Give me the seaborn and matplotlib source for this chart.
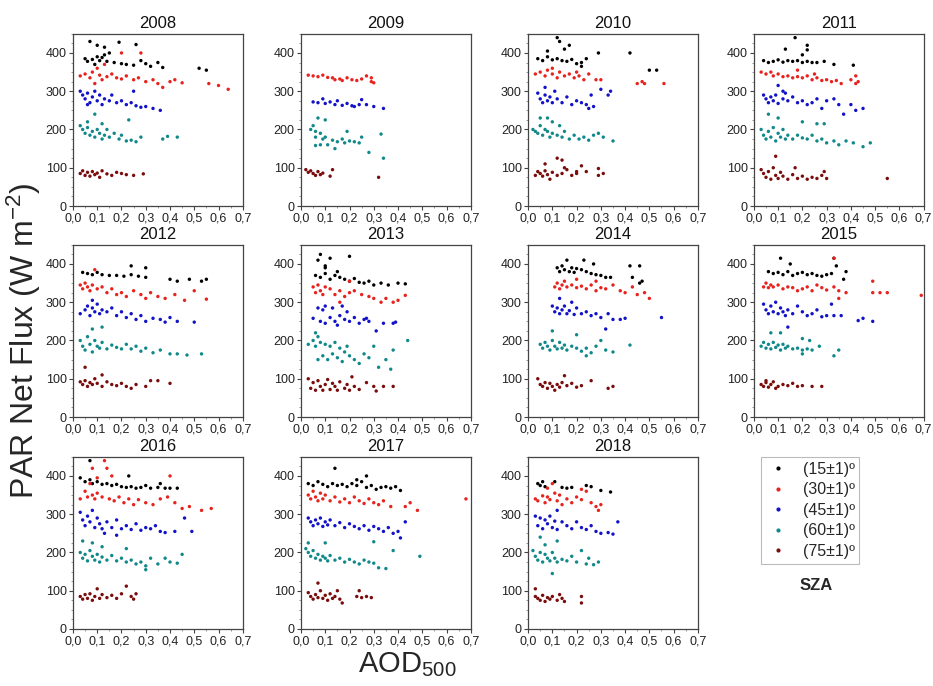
import matplotlib
matplotlib.use('Agg')
import matplotlib.pyplot as plt
from matplotlib.lines import Line2D
from matplotlib.ticker import MultipleLocator, FuncFormatter
import seaborn as sns
import pandas as pd

# SZA classes and their colours
sza_labels = ['(15±1)º', '(30±1)º', '(45±1)º', '(60±1)º', '(75±1)º']
sza_colors = ['#000000', '#e8231e', '#1212c8', '#11898a', '#7a0c0c']

# (AOD500, PAR net flux) points, one list per SZA class
y2008_15 = [(0.07,430),(0.1,420),(0.13,415),(0.19,428),(0.26,422),(0.05,385),(0.06,378),(0.08,383),(0.1,390),(0.11,380),(0.12,388),(0.13,395),(0.15,400),(0.17,375),(0.2,372),(0.22,370),(0.25,368),(0.28,380),(0.3,372),(0.32,365),(0.35,375),(0.37,362),(0.52,360),(0.55,355),(0.09,370),(0.14,378)]
y2008_30 = [(0.03,340),(0.05,345),(0.07,335),(0.08,350),(0.1,360),(0.11,342),(0.12,330),(0.14,338),(0.16,345),(0.18,335),(0.2,332),(0.22,340),(0.25,330),(0.27,335),(0.3,325),(0.33,330),(0.35,320),(0.4,325),(0.42,330),(0.45,322),(0.56,320),(0.6,315),(0.64,305),(0.13,370),(0.2,400),(0.28,400),(0.09,320),(0.37,310)]
y2008_45 = [(0.03,300),(0.04,290),(0.05,280),(0.06,295),(0.07,270),(0.08,285),(0.09,300),(0.1,275),(0.11,290),(0.12,265),(0.13,280),(0.15,275),(0.16,290),(0.18,270),(0.2,275),(0.22,265),(0.24,270),(0.26,262),(0.28,258),(0.3,260),(0.33,255),(0.36,250),(0.25,300),(0.06,265)]
y2008_60 = [(0.03,210),(0.04,200),(0.05,190),(0.06,205),(0.07,185),(0.08,195),(0.09,180),(0.1,200),(0.11,190),(0.12,175),(0.13,185),(0.14,200),(0.15,180),(0.17,190),(0.19,175),(0.2,185),(0.22,170),(0.24,172),(0.26,168),(0.28,180),(0.37,175),(0.39,182),(0.43,180),(0.09,240),(0.06,220),(0.12,215),(0.23,225)]
y2008_75 = [(0.03,85),(0.04,92),(0.05,80),(0.06,88),(0.07,78),(0.08,90),(0.09,82),(0.1,86),(0.11,75),(0.12,92),(0.14,84),(0.16,80),(0.18,88),(0.2,85),(0.22,82),(0.25,80),(0.29,84)]

y2009_15 = []
y2009_30 = [(0.03,342),(0.05,340),(0.07,338),(0.09,342),(0.11,336),(0.13,335),(0.14,330),(0.16,332),(0.17,328),(0.19,335),(0.21,330),(0.23,328),(0.25,332),(0.27,340),(0.29,335),(0.3,322),(0.29,325)]
y2009_45 = [(0.05,272),(0.07,270),(0.09,280),(0.1,268),(0.12,272),(0.14,265),(0.15,275),(0.17,263),(0.19,268),(0.21,262),(0.22,260),(0.24,265),(0.25,278),(0.27,265),(0.3,260),(0.34,255)]
y2009_60 = [(0.04,200),(0.05,210),(0.06,195),(0.07,230),(0.06,180),(0.08,190),(0.09,175),(0.1,180),(0.1,225),(0.11,160),(0.13,172),(0.14,150),(0.15,168),(0.17,175),(0.18,165),(0.19,195),(0.2,170),(0.22,168),(0.24,165),(0.25,180),(0.28,140),(0.33,188),(0.34,125),(0.06,158),(0.08,160)]
y2009_75 = [(0.02,95),(0.03,88),(0.04,92),(0.05,85),(0.06,80),(0.07,90),(0.08,82),(0.09,86),(0.12,78),(0.13,95),(0.32,75)]

y2010_15 = [(0.04,385),(0.06,380),(0.08,390),(0.1,382),(0.12,385),(0.14,380),(0.16,378),(0.18,383),(0.2,372),(0.22,375),(0.24,385),(0.08,405),(0.12,440),(0.13,430),(0.15,410),(0.17,420),(0.29,400),(0.42,400),(0.5,355),(0.53,355),(0.22,365)]
y2010_30 = [(0.03,345),(0.05,350),(0.07,340),(0.08,355),(0.1,345),(0.12,335),(0.13,350),(0.15,340),(0.17,345),(0.19,335),(0.21,340),(0.23,330),(0.25,345),(0.28,330),(0.3,330),(0.45,320),(0.47,325),(0.48,320),(0.56,320),(0.1,360),(0.2,350)]
y2010_45 = [(0.04,295),(0.05,280),(0.06,270),(0.07,290),(0.08,275),(0.09,285),(0.1,270),(0.11,300),(0.12,280),(0.14,270),(0.16,285),(0.18,265),(0.2,275),(0.22,270),(0.24,265),(0.26,290),(0.27,260),(0.3,305),(0.33,290),(0.34,300),(0.25,255),(0.07,310)]
y2010_60 = [(0.02,200),(0.03,195),(0.04,190),(0.05,210),(0.06,185),(0.07,200),(0.08,195),(0.09,180),(0.1,190),(0.12,185),(0.14,180),(0.15,195),(0.17,175),(0.19,185),(0.21,175),(0.23,180),(0.25,172),(0.27,185),(0.29,190),(0.31,180),(0.35,170),(0.05,230),(0.08,230),(0.1,220),(0.13,210)]
y2010_75 = [(0.03,80),(0.04,90),(0.05,85),(0.06,78),(0.07,92),(0.08,82),(0.09,70),(0.1,88),(0.12,80),(0.14,85),(0.15,100),(0.16,95),(0.18,80),(0.2,85),(0.22,105),(0.24,90),(0.29,80),(0.31,85),(0.29,98),(0.12,125),(0.14,120),(0.07,110),(0.2,90)]

y2011_15 = [(0.04,380),(0.06,375),(0.08,378),(0.1,382),(0.12,376),(0.14,380),(0.16,378),(0.18,380),(0.2,375),(0.22,378),(0.24,375),(0.26,375),(0.29,378),(0.33,370),(0.41,368),(0.17,440),(0.22,420),(0.22,408),(0.13,410),(0.2,395)]
y2011_30 = [(0.03,350),(0.05,345),(0.07,350),(0.08,340),(0.1,345),(0.12,338),(0.14,340),(0.16,335),(0.18,338),(0.2,335),(0.22,340),(0.24,330),(0.26,335),(0.28,328),(0.3,330),(0.32,325),(0.34,328),(0.36,320),(0.4,330),(0.42,340),(0.43,325),(0.42,320),(0.18,355),(0.25,345)]
y2011_45 = [(0.04,290),(0.05,280),(0.06,270),(0.07,285),(0.08,275),(0.09,290),(0.1,268),(0.12,280),(0.13,295),(0.14,275),(0.16,285),(0.18,270),(0.2,275),(0.22,265),(0.24,270),(0.26,280),(0.28,255),(0.3,275),(0.33,280),(0.35,265),(0.37,240),(0.4,265),(0.42,250),(0.45,255),(0.1,315),(0.12,300)]
y2011_60 = [(0.03,200),(0.04,185),(0.05,175),(0.06,195),(0.07,180),(0.08,205),(0.09,170),(0.1,190),(0.11,180),(0.12,200),(0.13,175),(0.14,185),(0.16,175),(0.18,185),(0.2,178),(0.22,175),(0.24,185),(0.26,170),(0.28,175),(0.3,165),(0.33,170),(0.35,160),(0.38,170),(0.41,165),(0.45,155),(0.48,165),(0.1,230),(0.2,220),(0.26,215),(0.29,215),(0.06,240)]
y2011_75 = [(0.03,95),(0.04,85),(0.05,75),(0.06,90),(0.07,70),(0.08,100),(0.09,80),(0.1,72),(0.11,88),(0.12,78),(0.14,70),(0.16,82),(0.18,72),(0.2,78),(0.22,70),(0.24,75),(0.26,72),(0.28,80),(0.3,72),(0.29,90),(0.55,72),(0.09,130),(0.17,100)]

y2012_15 = [(0.04,378),(0.06,375),(0.08,372),(0.1,378),(0.12,372),(0.15,370),(0.18,370),(0.21,368),(0.24,372),(0.27,368),(0.3,365),(0.24,395),(0.3,390),(0.4,360),(0.43,355),(0.48,360),(0.53,355),(0.55,360)]
y2012_30 = [(0.03,345),(0.04,335),(0.05,350),(0.06,340),(0.07,330),(0.08,345),(0.09,385),(0.1,335),(0.12,340),(0.14,325),(0.16,335),(0.18,320),(0.2,325),(0.22,315),(0.25,330),(0.28,320),(0.3,310),(0.32,325),(0.35,315),(0.38,310),(0.42,320),(0.46,305),(0.5,330),(0.55,308)]
y2012_45 = [(0.03,270),(0.05,280),(0.06,290),(0.07,265),(0.08,285),(0.09,275),(0.1,295),(0.11,270),(0.12,280),(0.14,275),(0.16,285),(0.18,265),(0.2,275),(0.22,260),(0.24,270),(0.26,255),(0.28,265),(0.3,250),(0.33,258),(0.36,255),(0.38,248),(0.4,260),(0.43,250),(0.5,248),(0.08,305)]
y2012_60 = [(0.03,200),(0.04,185),(0.05,175),(0.06,210),(0.07,190),(0.08,170),(0.09,200),(0.1,185),(0.11,180),(0.12,195),(0.14,178),(0.16,188),(0.18,182),(0.2,178),(0.22,190),(0.24,178),(0.26,185),(0.28,172),(0.3,180),(0.33,168),(0.36,175),(0.4,165),(0.43,165),(0.47,162),(0.53,165),(0.08,230),(0.12,235)]
y2012_75 = [(0.03,92),(0.04,85),(0.05,95),(0.06,80),(0.07,90),(0.08,85),(0.09,100),(0.1,88),(0.12,80),(0.14,92),(0.16,85),(0.18,82),(0.2,88),(0.22,80),(0.24,75),(0.26,85),(0.3,80),(0.32,95),(0.35,95),(0.4,88),(0.05,130),(0.12,110)]

y2013_15 = [(0.07,410),(0.08,425),(0.1,390),(0.12,415),(0.2,420),(0.06,370),(0.08,365),(0.1,375),(0.12,360),(0.14,370),(0.16,365),(0.18,360),(0.2,355),(0.22,362),(0.24,352),(0.26,350),(0.28,355),(0.3,345),(0.33,350),(0.36,345),(0.4,350),(0.43,348),(0.1,395),(0.15,380)]
y2013_30 = [(0.05,340),(0.06,325),(0.07,345),(0.08,330),(0.09,320),(0.1,340),(0.12,335),(0.14,320),(0.16,330),(0.18,315),(0.2,325),(0.22,330),(0.25,320),(0.28,315),(0.3,310),(0.33,300),(0.35,310),(0.38,300),(0.4,305),(0.43,318),(0.2,355),(0.16,300)]
y2013_45 = [(0.05,258),(0.07,285),(0.08,250),(0.09,280),(0.1,245),(0.12,260),(0.13,285),(0.14,250),(0.15,240),(0.16,265),(0.17,290),(0.18,255),(0.19,275),(0.2,250),(0.22,260),(0.24,245),(0.26,255),(0.28,250),(0.31,225),(0.34,245),(0.38,245),(0.39,248),(0.1,290),(0.27,258)]
y2013_60 = [(0.03,190),(0.05,200),(0.06,185),(0.07,210),(0.08,195),(0.09,160),(0.1,190),(0.11,150),(0.12,185),(0.13,165),(0.14,195),(0.15,155),(0.16,180),(0.17,145),(0.18,170),(0.19,185),(0.2,160),(0.22,150),(0.24,140),(0.26,165),(0.28,155),(0.3,185),(0.32,130),(0.35,150),(0.37,125),(0.38,175),(0.44,200),(0.06,220),(0.07,150)]
y2013_75 = [(0.03,100),(0.04,75),(0.05,90),(0.06,70),(0.07,95),(0.08,80),(0.09,70),(0.1,85),(0.11,98),(0.12,72),(0.13,88),(0.14,80),(0.15,70),(0.16,92),(0.18,75),(0.19,85),(0.2,70),(0.21,105),(0.22,80),(0.24,72),(0.27,90),(0.3,80),(0.31,68),(0.34,80),(0.38,80)]

y2014_15 = [(0.12,390),(0.13,380),(0.14,395),(0.15,385),(0.16,410),(0.17,380),(0.18,390),(0.19,378),(0.2,388),(0.22,385),(0.23,410),(0.24,380),(0.26,375),(0.27,400),(0.28,372),(0.3,370),(0.32,365),(0.34,365),(0.42,395),(0.46,395),(0.47,355),(0.46,350),(0.43,365)]
y2014_30 = [(0.11,340),(0.12,350),(0.13,335),(0.14,345),(0.15,355),(0.16,340),(0.18,345),(0.2,338),(0.22,342),(0.24,335),(0.26,345),(0.28,330),(0.3,338),(0.32,335),(0.35,345),(0.38,330),(0.4,325),(0.43,340),(0.45,320),(0.48,325),(0.5,310),(0.2,360),(0.28,355)]
y2014_45 = [(0.1,290),(0.11,275),(0.12,285),(0.13,270),(0.14,280),(0.15,290),(0.16,270),(0.17,278),(0.18,300),(0.19,268),(0.2,285),(0.22,270),(0.24,275),(0.26,265),(0.28,270),(0.3,260),(0.32,230),(0.33,270),(0.35,255),(0.38,255),(0.4,258),(0.55,260),(0.13,310)]
y2014_60 = [(0.05,190),(0.06,180),(0.07,195),(0.08,185),(0.09,175),(0.1,200),(0.11,185),(0.12,178),(0.13,195),(0.14,180),(0.15,188),(0.16,175),(0.18,185),(0.2,180),(0.22,172),(0.24,180),(0.26,168),(0.28,185),(0.3,200),(0.32,175),(0.35,170),(0.42,188),(0.1,225),(0.2,215),(0.24,160)]
y2014_75 = [(0.04,100),(0.05,85),(0.06,80),(0.07,90),(0.08,75),(0.09,88),(0.1,80),(0.11,70),(0.12,85),(0.13,78),(0.14,90),(0.15,108),(0.16,82),(0.18,88),(0.2,78),(0.22,82),(0.26,95),(0.33,75),(0.35,80)]

y2015_15 = [(0.06,380),(0.08,375),(0.1,378),(0.12,372),(0.14,380),(0.16,370),(0.18,375),(0.2,378),(0.22,372),(0.24,375),(0.26,370),(0.28,368),(0.3,372),(0.32,375),(0.34,395),(0.37,360),(0.38,380),(0.33,415),(0.11,415),(0.15,400)]
y2015_30 = [(0.04,340),(0.05,350),(0.06,338),(0.07,345),(0.08,340),(0.1,345),(0.12,335),(0.14,340),(0.16,338),(0.18,330),(0.2,335),(0.22,340),(0.24,330),(0.26,345),(0.28,338),(0.3,332),(0.33,340),(0.35,330),(0.38,325),(0.49,355),(0.49,325),(0.52,325),(0.55,325),(0.69,318),(0.33,415),(0.35,310)]
y2015_45 = [(0.04,295),(0.05,280),(0.06,270),(0.07,290),(0.08,275),(0.09,300),(0.1,270),(0.11,285),(0.12,275),(0.13,265),(0.14,280),(0.16,270),(0.18,290),(0.2,275),(0.22,265),(0.24,270),(0.26,280),(0.28,262),(0.3,265),(0.33,265),(0.36,265),(0.43,252),(0.45,258),(0.49,250),(0.32,295),(0.14,235)]
y2015_60 = [(0.03,185),(0.04,195),(0.05,180),(0.06,190),(0.07,178),(0.08,195),(0.09,182),(0.1,188),(0.11,175),(0.12,190),(0.13,180),(0.14,185),(0.16,178),(0.18,180),(0.2,175),(0.22,178),(0.24,175),(0.27,185),(0.2,205),(0.23,200),(0.33,160),(0.35,175),(0.07,220),(0.11,220),(0.2,165)]
y2015_75 = [(0.03,85),(0.04,80),(0.05,90),(0.06,78),(0.07,85),(0.08,92),(0.09,75),(0.1,80),(0.12,85),(0.14,82),(0.16,88),(0.18,80),(0.2,82),(0.24,80),(0.28,80),(0.05,95)]

y2016_15 = [(0.03,395),(0.05,385),(0.07,390),(0.08,380),(0.1,385),(0.12,378),(0.14,380),(0.16,375),(0.18,378),(0.2,372),(0.22,370),(0.24,372),(0.26,368),(0.28,370),(0.3,375),(0.32,368),(0.35,370),(0.38,368),(0.4,368),(0.43,368),(0.07,440),(0.23,400),(0.36,380)]
y2016_30 = [(0.03,340),(0.05,360),(0.06,345),(0.07,380),(0.08,350),(0.09,340),(0.1,355),(0.12,345),(0.13,440),(0.14,420),(0.15,340),(0.17,335),(0.19,345),(0.21,330),(0.23,340),(0.25,325),(0.27,338),(0.3,330),(0.33,325),(0.36,340),(0.39,345),(0.4,400),(0.42,330),(0.45,315),(0.48,320),(0.53,310),(0.57,315),(0.1,395),(0.08,420),(0.16,400)]
y2016_45 = [(0.03,305),(0.04,285),(0.05,270),(0.06,295),(0.07,280),(0.08,310),(0.09,265),(0.1,290),(0.11,275),(0.12,262),(0.14,280),(0.16,265),(0.18,285),(0.2,262),(0.22,270),(0.24,260),(0.26,275),(0.28,258),(0.3,265),(0.32,262),(0.34,270),(0.36,255),(0.38,252),(0.42,255),(0.46,290),(0.49,255),(0.13,250),(0.18,245)]
y2016_60 = [(0.03,200),(0.04,185),(0.05,195),(0.06,178),(0.07,205),(0.08,190),(0.09,180),(0.1,195),(0.11,175),(0.12,188),(0.14,180),(0.16,192),(0.18,178),(0.2,185),(0.22,175),(0.24,180),(0.26,170),(0.28,175),(0.3,165),(0.3,155),(0.32,185),(0.35,170),(0.38,185),(0.4,175),(0.43,172),(0.45,195),(0.04,230),(0.08,225),(0.12,215),(0.22,210)]
y2016_75 = [(0.03,85),(0.04,78),(0.05,90),(0.06,80),(0.07,92),(0.08,75),(0.09,85),(0.1,105),(0.11,80),(0.12,90),(0.14,82),(0.16,88),(0.18,80),(0.2,92),(0.22,112),(0.24,85),(0.25,78),(0.26,92)]

y2017_15 = [(0.03,380),(0.05,375),(0.07,385),(0.09,378),(0.11,372),(0.13,380),(0.14,420),(0.15,375),(0.17,378),(0.19,372),(0.21,380),(0.23,375),(0.25,385),(0.27,370),(0.29,375),(0.31,365),(0.33,370),(0.35,372),(0.37,368),(0.39,372),(0.41,362),(0.27,400),(0.23,390)]
y2017_30 = [(0.03,350),(0.04,340),(0.05,360),(0.06,345),(0.07,335),(0.08,355),(0.09,340),(0.1,350),(0.12,335),(0.14,345),(0.16,332),(0.18,340),(0.2,330),(0.22,345),(0.24,335),(0.26,328),(0.28,340),(0.3,330),(0.32,325),(0.34,335),(0.37,320),(0.43,320),(0.45,330),(0.48,310),(0.68,340)]
y2017_45 = [(0.03,290),(0.04,280),(0.05,270),(0.06,285),(0.07,275),(0.08,290),(0.09,268),(0.1,280),(0.11,272),(0.12,285),(0.14,270),(0.16,278),(0.18,265),(0.2,275),(0.22,268),(0.24,262),(0.26,270),(0.28,258),(0.3,268),(0.32,262),(0.34,255),(0.36,265),(0.38,250),(0.4,255),(0.41,238),(0.43,280)]
y2017_60 = [(0.02,210),(0.03,200),(0.04,190),(0.05,205),(0.06,185),(0.07,195),(0.08,180),(0.09,190),(0.1,185),(0.11,178),(0.12,192),(0.14,180),(0.16,185),(0.18,175),(0.2,182),(0.22,175),(0.24,170),(0.26,180),(0.28,175),(0.3,172),(0.32,160),(0.35,158),(0.38,205),(0.49,190),(0.1,225),(0.3,228),(0.03,225)]
y2017_75 = [(0.03,95),(0.04,85),(0.05,78),(0.06,90),(0.07,82),(0.08,100),(0.07,120),(0.09,80),(0.1,88),(0.11,75),(0.12,92),(0.13,80),(0.14,85),(0.15,100),(0.16,78),(0.17,68),(0.23,85),(0.25,82),(0.27,85),(0.29,82),(0.24,100)]

y2018_15 = [(0.04,380),(0.05,375),(0.06,385),(0.07,372),(0.14,370),(0.16,368),(0.18,370),(0.24,375),(0.26,372),(0.3,362),(0.34,358),(0.11,385)]
y2018_30 = [(0.03,340),(0.04,335),(0.06,348),(0.07,330),(0.08,345),(0.09,338),(0.1,380),(0.11,355),(0.12,335),(0.13,350),(0.14,325),(0.16,340),(0.18,330),(0.2,345),(0.22,338),(0.24,360),(0.26,330),(0.28,320),(0.29,310),(0.3,325),(0.22,365),(0.08,368)]
y2018_45 = [(0.03,295),(0.04,270),(0.05,290),(0.06,262),(0.07,285),(0.08,275),(0.09,295),(0.1,265),(0.11,282),(0.12,260),(0.14,280),(0.16,270),(0.18,262),(0.2,280),(0.22,265),(0.24,260),(0.26,270),(0.28,255),(0.3,250),(0.33,252),(0.35,248),(0.37,280),(0.12,310)]
y2018_60 = [(0.02,205),(0.03,190),(0.04,180),(0.05,200),(0.06,175),(0.07,195),(0.08,185),(0.09,178),(0.1,200),(0.11,185),(0.12,175),(0.14,182),(0.16,178),(0.18,190),(0.2,175),(0.22,205),(0.24,170),(0.25,185),(0.27,168),(0.29,175),(0.05,240),(0.07,220),(0.1,145),(0.12,230)]
y2018_75 = [(0.03,85),(0.04,80),(0.05,75),(0.06,88),(0.07,72),(0.08,82),(0.09,78),(0.1,85),(0.12,75),(0.13,90),(0.14,80),(0.15,72),(0.22,85),(0.22,68),(0.03,105)]

years = {
    2008: [y2008_15, y2008_30, y2008_45, y2008_60, y2008_75],
    2009: [y2009_15, y2009_30, y2009_45, y2009_60, y2009_75],
    2010: [y2010_15, y2010_30, y2010_45, y2010_60, y2010_75],
    2011: [y2011_15, y2011_30, y2011_45, y2011_60, y2011_75],
    2012: [y2012_15, y2012_30, y2012_45, y2012_60, y2012_75],
    2013: [y2013_15, y2013_30, y2013_45, y2013_60, y2013_75],
    2014: [y2014_15, y2014_30, y2014_45, y2014_60, y2014_75],
    2015: [y2015_15, y2015_30, y2015_45, y2015_60, y2015_75],
    2016: [y2016_15, y2016_30, y2016_45, y2016_60, y2016_75],
    2017: [y2017_15, y2017_30, y2017_45, y2017_60, y2017_75],
    2018: [y2018_15, y2018_30, y2018_45, y2018_60, y2018_75],
}

rows = []
for year, series in years.items():
    for lab, pts in zip(sza_labels, series):
        for a, f in pts:
            rows.append({'year': year, 'SZA': lab, 'AOD': a, 'flux': f})
df = pd.DataFrame(rows)

sns.set_style('ticks')
plt.rcParams['font.family'] = ['Liberation Sans', 'DejaVu Sans']
plt.rcParams['mathtext.default'] = 'regular'

fig = plt.figure(figsize=(9.33, 6.86), dpi=100)

col_left = [0.0782, 0.3226, 0.566, 0.808]
row_bottom = [0.6997, 0.3921, 0.0831]
w, h = 0.182, 0.251
comma = FuncFormatter(lambda v, p: f'{v:.1f}'.replace('.', ','))
palette = dict(zip(sza_labels, sza_colors))

for i, year in enumerate(years):
    r, c = divmod(i, 4)
    ax = fig.add_axes([col_left[c], row_bottom[r], w, h])
    sub = df[df['year'] == year]
    sns.scatterplot(data=sub, x='AOD', y='flux', hue='SZA', hue_order=sza_labels,
                    palette=palette, s=6, linewidth=0, ax=ax, legend=False)
    ax.set_xlim(0, 0.7)
    ax.set_ylim(0, 450)
    ax.xaxis.set_major_locator(MultipleLocator(0.1))
    ax.xaxis.set_minor_locator(MultipleLocator(0.05))
    ax.yaxis.set_major_locator(MultipleLocator(100))
    ax.yaxis.set_minor_locator(MultipleLocator(25))
    ax.xaxis.set_major_formatter(comma)
    ax.tick_params(which='major', length=3, width=0.8, labelsize=9, pad=1.5,
                   color='#444444', labelcolor='#222222')
    ax.tick_params(which='minor', length=1.5, width=0.6, color='#888888')
    ax.set_xlabel('')
    ax.set_ylabel('')
    for sp in ax.spines.values():
        sp.set_visible(True)
        sp.set_color('#444444')
        sp.set_linewidth(0.9)
    ax.set_title(str(year), fontsize=12, pad=4, color='#111111')

fig.text(0.026, 0.504, 'PAR Net Flux (W m$^{-2}$)', rotation=90,
         ha='center', va='center', fontsize=23)
fig.text(0.437, 0.031, 'AOD$_{500}$', ha='center', va='center', fontsize=21)

handles = [Line2D([], [], marker='o', linestyle='', markersize=3, color=col,
                  markeredgewidth=0) for col in sza_colors]
leg = fig.legend(handles, sza_labels, loc='upper left', bbox_to_anchor=(0.8157, 0.334),
                 frameon=True, fancybox=False, edgecolor='#aaaaaa', fontsize=11.5,
                 handletextpad=0.8, labelspacing=0.35, borderpad=0.3, handlelength=1.5,
                 borderaxespad=0)
leg.get_frame().set_linewidth(0.8)
fig.text(0.8746, 0.147, 'SZA', fontsize=12, fontweight='bold', ha='center', va='center')

fig.savefig('out.png', dpi=100)
